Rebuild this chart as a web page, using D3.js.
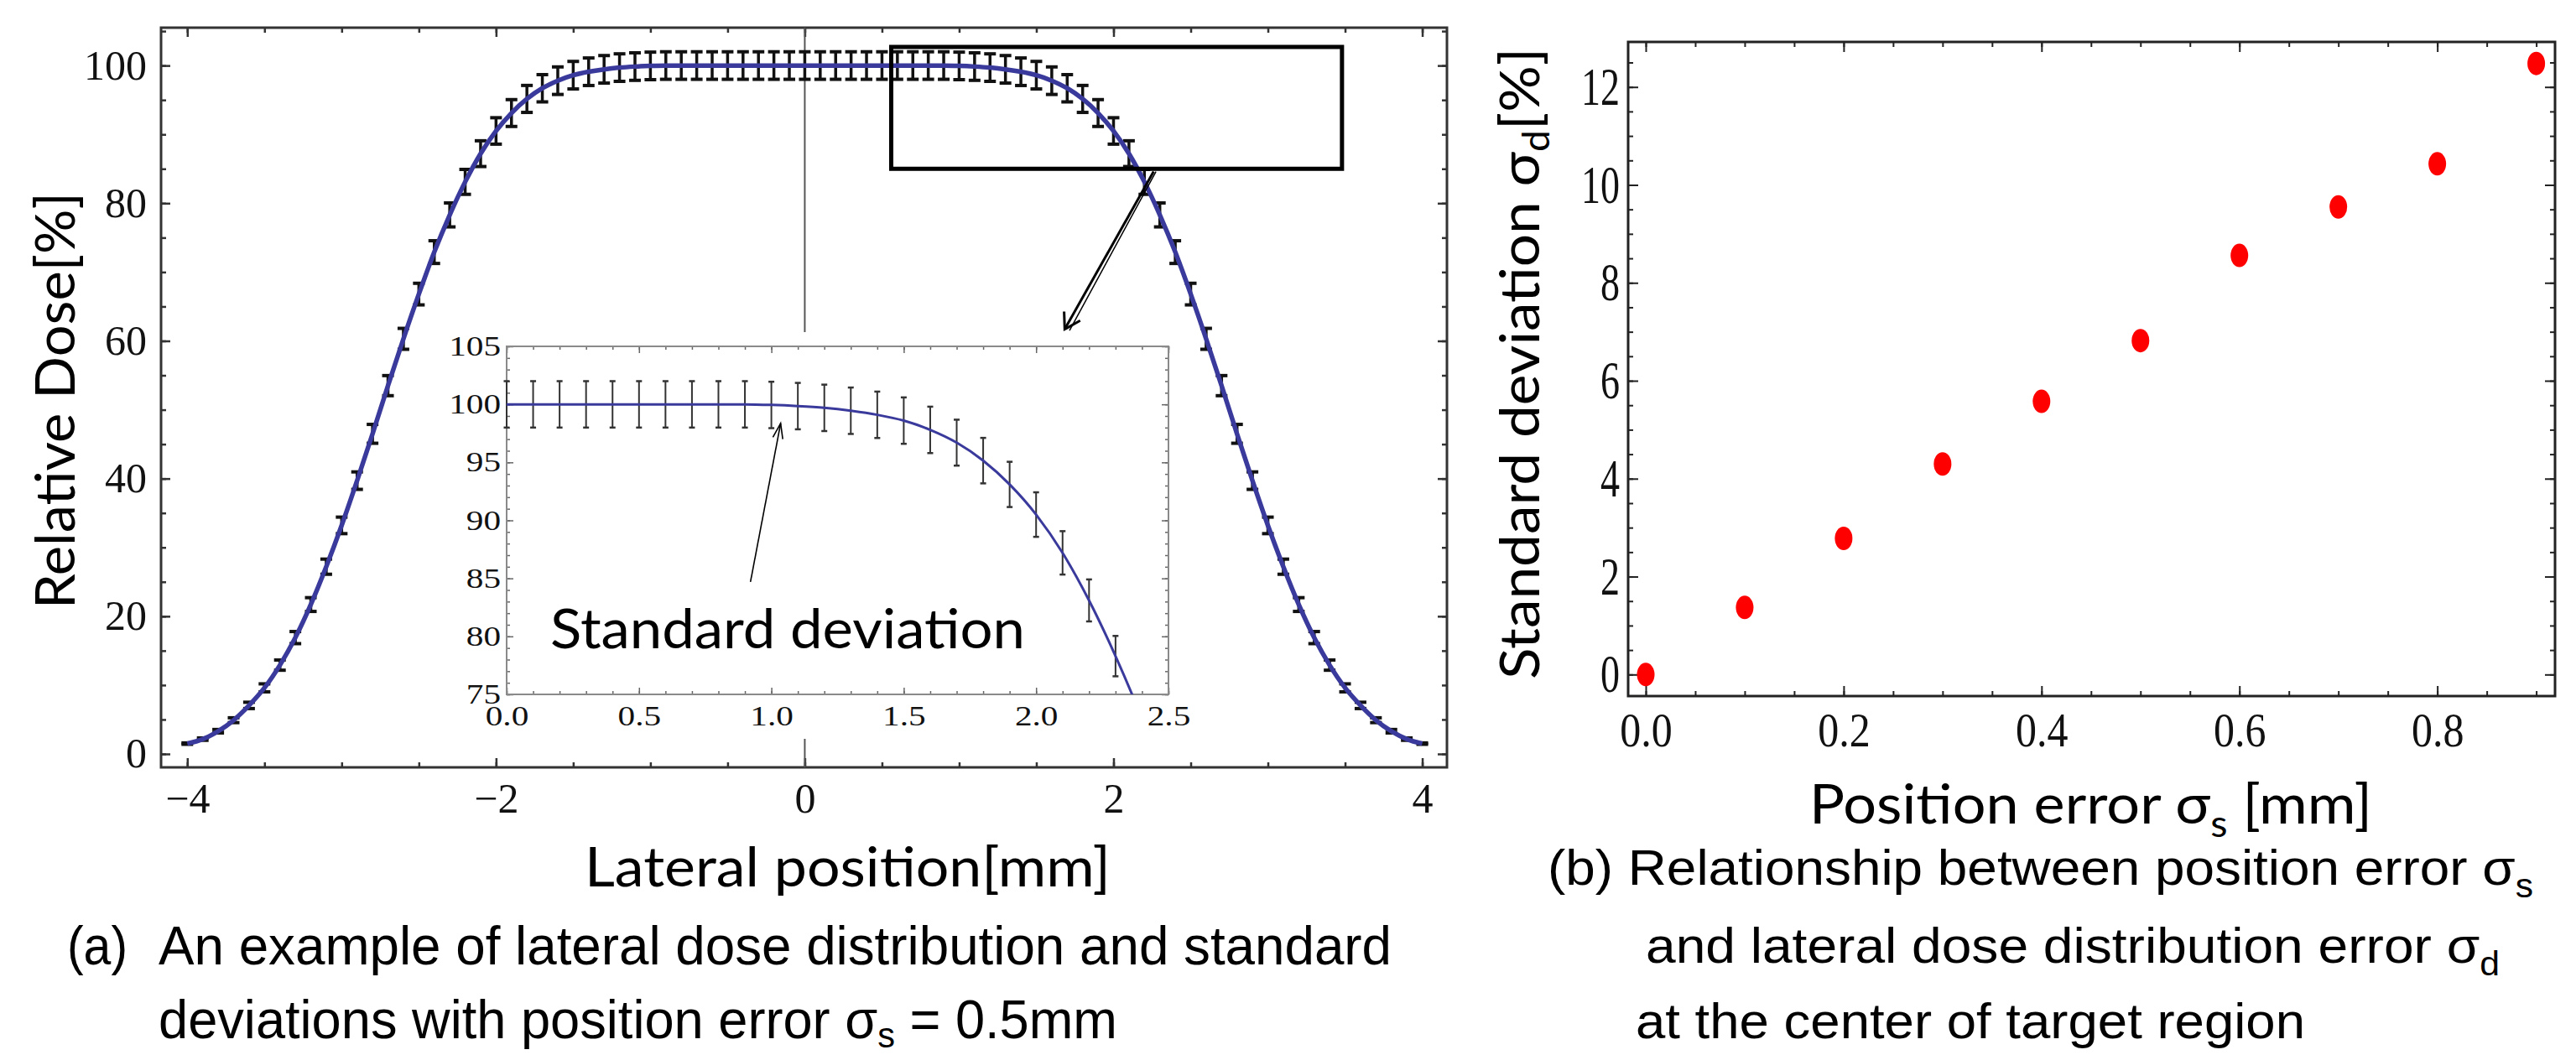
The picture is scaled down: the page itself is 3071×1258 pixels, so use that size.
<!DOCTYPE html>
<html>
<head>
<meta charset="utf-8">
<script src="https://cdn.jsdelivr.net/npm/d3@7"></script>
<style>
  body { margin: 0; background: #fff; }
  svg { display: block; background: #fff; }
  .mainAx text { font-family: "Liberation Serif", serif; font-size: 50px; fill: #111; }
  .inAx text { font-family: "Liberation Serif", serif; font-size: 33px; fill: #111;
    transform-box: fill-box; transform-origin: center; transform: scaleX(1.25); }
  .inAx.ylab text { transform-origin: 100% 50%; }
  .rAx text { font-family: "Liberation Serif", serif; fill: #111; transform-box: fill-box; transform-origin: center; }
  .rAx.ylab text { font-size: 46px; transform: scaleY(1.38); }
  .rAx.xlab text { font-size: 50px; transform: scaleY(1.15); }
  .title { font-family: Lato, "Open Sans", sans-serif; font-size: 66px; fill: #000; }
  .caption { font-family: "Liberation Sans Narrow", "Liberation Sans", Arial, sans-serif; fill: #000; }
</style>
</head>
<body>
<svg id="fig" width="3071" height="1258"></svg>
<script>
//======= data =======//
let lateralPos = [-4.0, -3.9, -3.8, -3.7, -3.6, -3.5, -3.4, -3.3, -3.2, -3.1, -3.0, -2.9, -2.8, -2.7, -2.6, -2.5, -2.4,
  -2.3, -2.2, -2.1, -2.0, -1.9, -1.8, -1.7, -1.6, -1.5, -1.4, -1.3, -1.2, -1.1, -1.0, -0.9, -0.8, -0.7, -0.6, -0.5,
  -0.4, -0.3, -0.2, -0.1, 0.0, 0.1, 0.2, 0.3, 0.4, 0.5, 0.6, 0.7, 0.8, 0.9, 1.0, 1.1, 1.2, 1.3, 1.4, 1.5, 1.6, 1.7,
  1.8, 1.9, 2.0, 2.1, 2.2, 2.3, 2.4, 2.5, 2.6, 2.7, 2.8, 2.9, 3.0, 3.1, 3.2, 3.3, 3.4, 3.5, 3.6, 3.7, 3.8, 3.9, 4.0];

let doseValues = [1.5, 2.15, 3.3, 4.9, 7.05, 9.6, 12.9, 16.9, 21.7, 27.2, 33.2, 39.7, 46.5, 53.5, 60.3, 66.8, 72.9,
  78.3, 83.1, 87.2, 90.5, 93.1, 95.15, 96.7, 97.8, 98.6, 99.1, 99.45, 99.7, 99.85, 99.95, 100, 100, 100, 100, 100,
  100, 100, 100, 100, 100, 100, 100, 100, 100, 100, 100, 100, 100, 100, 99.95, 99.85, 99.7, 99.45, 99.1, 98.6, 97.8,
  96.7, 95.15, 93.1, 90.5, 87.2, 83.1, 78.3, 72.9, 66.8, 60.3, 53.5, 46.5, 39.7, 33.2, 27.2, 21.7, 16.9, 12.9, 9.6,
  7.05, 4.9, 3.3, 2.15, 1.5];

let doseErrors = [0.1, 0.17, 0.25, 0.35, 0.46, 0.58, 0.74, 0.88, 1.0, 1.1, 1.2, 1.27, 1.37, 1.46, 1.52, 1.57, 1.65,
  1.74, 1.81, 1.87, 1.92, 1.95, 1.96, 1.98, 2.0, 2.0, 2.0, 2.0, 2.0, 2.0, 2.0, 2.0, 2.0, 2.0, 2.0, 2.0, 2.0, 2.0, 2.0,
  2.0, 2.0, 2.0, 2.0, 2.0, 2.0, 2.0, 2.0, 2.0, 2.0, 2.0, 2.0, 2.0, 2.0, 2.0, 2.0, 2.0, 2.0, 1.98, 1.96, 1.95, 1.92,
  1.87, 1.81, 1.74, 1.65, 1.57, 1.52, 1.46, 1.37, 1.27, 1.2, 1.1, 1.0, 0.88, 0.74, 0.58, 0.46, 0.35, 0.25, 0.17, 0.1];

let posError = [0.0, 0.1, 0.2, 0.3, 0.4, 0.5, 0.6, 0.7, 0.8, 0.9];
let sigmaD = [0.0, 1.37, 2.78, 4.30, 5.58, 6.82, 8.56, 9.55, 10.43, 12.48];

let mainXTicks = [-4, -2, 0, 2, 4];
let mainYTicks = [0, 20, 40, 60, 80, 100];
let insetXTicks = [0, 0.5, 1, 1.5, 2, 2.5];
let insetYTicks = [75, 80, 85, 90, 95, 100, 105];
let rightXTicks = [0, 0.2, 0.4, 0.6, 0.8];
let rightYTicks = [0, 2, 4, 6, 8, 10, 12];

// zoom box (data coords of main chart)
let zoomBox = { x0: 0.56, x1: 3.48, y0: 85.0, y1: 102.7 };

//======= helpers =======//
let svg = d3.select('#fig');
let defs = svg.append('defs');

defs.append('marker').attr('id', 'arrBig')
  .attr('viewBox', '-24 -14 28 28').attr('refX', 0).attr('refY', 0)
  .attr('markerWidth', 28).attr('markerHeight', 28)
  .attr('markerUnits', 'userSpaceOnUse').attr('orient', 'auto')
  .append('path').attr('d', 'M-18,-11L0,0L-18,11')
  .attr('fill', 'none').attr('stroke', '#000').attr('stroke-width', 3);

defs.append('marker').attr('id', 'arrSmall')
  .attr('viewBox', '-22 -10 26 20').attr('refX', 0).attr('refY', 0)
  .attr('markerWidth', 26).attr('markerHeight', 20)
  .attr('markerUnits', 'userSpaceOnUse').attr('orient', 'auto')
  .append('path').attr('d', 'M-18,-6L0,0L-18,6')
  .attr('fill', 'none').attr('stroke', '#000').attr('stroke-width', 1.6);

function frameAxes(g, x, y, o) {
  let [x0, x1] = x.range();
  let [y0, y1] = y.range();
  let add = function (axis, tr, cls) {
    return g.append('g').attr('class', cls || '').attr('transform', tr).call(axis.tickSizeOuter(0));
  };
  add(d3.axisBottom(x).tickValues(o.xMinor).tickSizeInner(-o.minor).tickFormat(''), 'translate(0,' + y0 + ')');
  add(d3.axisTop(x).tickValues(o.xMinor).tickSizeInner(-o.minor).tickFormat(''), 'translate(0,' + y1 + ')');
  add(d3.axisLeft(y).tickValues(o.yMinor).tickSizeInner(-o.minor).tickFormat(''), 'translate(' + x0 + ',0)');
  add(d3.axisRight(y).tickValues(o.yMinor).tickSizeInner(-o.minor).tickFormat(''), 'translate(' + x1 + ',0)');
  add(d3.axisBottom(x).tickValues(o.xMajor).tickSizeInner(-o.major).tickPadding(o.xPad).tickFormat(o.xFmt),
    'translate(0,' + y0 + ')', o.cls + ' xlab');
  add(d3.axisTop(x).tickValues(o.xMajor).tickSizeInner(-o.major).tickFormat(''), 'translate(0,' + y1 + ')');
  add(d3.axisLeft(y).tickValues(o.yMajor).tickSizeInner(-o.major).tickPadding(o.yPad).tickFormat(o.yFmt),
    'translate(' + x0 + ',0)', o.cls + ' ylab');
  add(d3.axisRight(y).tickValues(o.yMajor).tickSizeInner(-o.major).tickFormat(''), 'translate(' + x1 + ',0)');
  g.selectAll('.domain').remove();
  g.selectAll('.tick line').attr('stroke', o.color).attr('stroke-width', o.tickW);
  g.append('rect').attr('x', x0).attr('y', y1).attr('width', x1 - x0).attr('height', y0 - y1)
    .attr('fill', 'none').attr('stroke', o.frameColor || o.color).attr('stroke-width', o.frameW);
}

function errorBars(g, pts, x, y, o) {
  let bars = g.selectAll('g').data(pts).enter().append('g');
  bars.append('line')
    .attr('x1', d => x(d.x)).attr('x2', d => x(d.x))
    .attr('y1', d => y(d.y - d.e)).attr('y2', d => y(d.y + d.e))
    .attr('stroke', o.color).attr('stroke-width', o.w);
  [-1, 1].forEach(function (s) {
    bars.append('line')
      .attr('x1', d => x(d.x) - o.cap).attr('x2', d => x(d.x) + o.cap)
      .attr('y1', d => y(d.y + s * d.e)).attr('y2', d => y(d.y + s * d.e))
      .attr('stroke', o.color).attr('stroke-width', o.capW);
  });
}

let mainPts = lateralPos.map((p, i) => ({ x: p, y: doseValues[i], e: doseErrors[i] }));

//======= start lateral dose chart =======//
let mainX = d3.scaleLinear().domain([-4.17, 4.16]).range([192, 1725]);
let mainY = d3.scaleLinear().domain([-1.95, 105.5]).range([915, 33]);
let mainG = svg.append('g');

frameAxes(mainG, mainX, mainY, {
  xMajor: mainXTicks, yMajor: mainYTicks,
  xMinor: d3.range(-4, 4.01, 0.5), yMinor: d3.range(0, 105.1, 5),
  major: 11, minor: 6, xPad: 18, yPad: 17,
  xFmt: d3.format('d'), yFmt: d3.format('d'),
  cls: 'mainAx', color: '#333', tickW: 2.5, frameW: 3
});

// vertical axis at x = 0
mainG.append('line')
  .attr('x1', mainX(0)).attr('x2', mainX(0))
  .attr('y1', mainY.range()[1]).attr('y2', mainY.range()[0])
  .attr('stroke', '#555').attr('stroke-width', 2);

errorBars(mainG.append('g'), mainPts, mainX, mainY, { color: '#111', w: 3.5, cap: 7, capW: 4 });

mainG.append('path')
  .datum(mainPts)
  .attr('fill', 'none')
  .attr('stroke', '#3a3a9c')
  .attr('stroke-width', 5.5)
  .attr('d', d3.line().curve(d3.curveMonotoneX).x(d => mainX(d.x)).y(d => mainY(d.y)));

mainG.append('rect')
  .attr('x', mainX(zoomBox.x0)).attr('y', mainY(zoomBox.y1))
  .attr('width', mainX(zoomBox.x1) - mainX(zoomBox.x0))
  .attr('height', mainY(zoomBox.y0) - mainY(zoomBox.y1))
  .attr('fill', 'none').attr('stroke', '#000').attr('stroke-width', 5);

// arrow from zoom box down to the inset
mainG.append('line')
  .attr('x1', mainX(2.275)).attr('y1', mainY(84.6))
  .attr('x2', mainX(1.715)).attr('y2', mainY(61.5))
  .attr('stroke', '#000').attr('stroke-width', 1.5);
mainG.append('line')
  .attr('x1', mainX(2.26)).attr('y1', mainY(84.6))
  .attr('x2', mainX(1.684)).attr('y2', mainY(61.7))
  .attr('stroke', '#000').attr('stroke-width', 3)
  .attr('marker-end', 'url(#arrBig)');
//======= end lateral dose chart =======//

//======= start inset =======//
let inX = d3.scaleLinear().domain([0, 2.5]).range([604, 1393]);
let inY = d3.scaleLinear().domain([75, 105]).range([828, 413]);
let inG = svg.append('g');

inG.append('rect').attr('x', 530).attr('y', 396).attr('width', 885).attr('height', 485).attr('fill', '#fff');

defs.append('clipPath').attr('id', 'inClip').append('rect')
  .attr('x', inX.range()[0]).attr('y', inY.range()[1])
  .attr('width', inX.range()[1] - inX.range()[0]).attr('height', inY.range()[0] - inY.range()[1]);

frameAxes(inG, inX, inY, {
  xMajor: insetXTicks, yMajor: insetYTicks,
  xMinor: d3.range(0, 2.501, 0.1), yMinor: d3.range(75, 105.1, 1),
  major: 8, minor: 4, xPad: 14, yPad: 7,
  xFmt: d3.format('.1f'), yFmt: d3.format('d'),
  cls: 'inAx', color: '#666', tickW: 1.5, frameW: 2, frameColor: '#8a8a8a'
});

errorBars(inG.append('g'), mainPts.filter(d => d.x >= 0 && d.x <= 2.3), inX, inY,
  { color: '#333', w: 2, cap: 3.5, capW: 2.5 });

inG.append('path')
  .datum(mainPts.filter(d => d.x >= 0 && d.x <= 2.5))
  .attr('clip-path', 'url(#inClip)')
  .attr('fill', 'none')
  .attr('stroke', '#3a3a9c')
  .attr('stroke-width', 3)
  .attr('d', d3.line().curve(d3.curveMonotoneX).x(d => inX(d.x)).y(d => inY(d.y)));

inG.append('line')
  .attr('x1', inX(0.921)).attr('y1', inY(84.69))
  .attr('x2', inX(1.035)).attr('y2', inY(98.36))
  .attr('stroke', '#000').attr('stroke-width', 1.6)
  .attr('marker-end', 'url(#arrSmall)');

inG.append('text').attr('class', 'title')
  .attr('x', inX(0.165)).attr('y', inY(78.98))
  .attr('textLength', 566).attr('lengthAdjust', 'spacingAndGlyphs')
  .text('Standard deviation');
//======= end inset =======//

//======= start position error chart =======//
let rX = d3.scaleLinear().domain([-0.0178, 0.919]).range([1941, 3046]);
let rY = d3.scaleLinear().domain([-0.44, 12.92]).range([830, 50]);
let rG = svg.append('g');

frameAxes(rG, rX, rY, {
  xMajor: rightXTicks, yMajor: rightYTicks,
  xMinor: d3.range(0, 0.901, 0.05), yMinor: d3.range(0, 12.51, 0.5),
  major: 12, minor: 6, xPad: 22, yPad: 10,
  xFmt: d3.format('.1f'), yFmt: d3.format('d'),
  cls: 'rAx', color: '#222', tickW: 2, frameW: 3
});

rG.append('g').selectAll('ellipse')
  .data(posError.map((p, i) => ({ x: p, y: sigmaD[i] })))
  .enter()
  .append('ellipse')
  .attr('cx', d => rX(d.x)).attr('cy', d => rY(d.y))
  .attr('rx', 10.5).attr('ry', 14)
  .attr('fill', '#ff0000');
//======= end position error chart =======//

//======= titles and captions =======//
svg.append('text').attr('class', 'title')
  .attr('transform', 'translate(89,726) rotate(-90)')
  .attr('textLength', 497).attr('lengthAdjust', 'spacingAndGlyphs')
  .text('Relative Dose[%]');

svg.append('text').attr('class', 'title')
  .attr('x', 697).attr('y', 1057)
  .attr('textLength', 627).attr('lengthAdjust', 'spacingAndGlyphs')
  .text('Lateral position[mm]');

let rYT = svg.append('text').attr('class', 'title')
  .attr('transform', 'translate(1835,810) rotate(-90)')
  .attr('textLength', 753).attr('lengthAdjust', 'spacingAndGlyphs');
rYT.append('tspan').text('Standard deviation σ');
rYT.append('tspan').attr('dy', 12).attr('font-size', 44).text('d');
rYT.append('tspan').attr('dy', -12).text('[%]');

let rXT = svg.append('text').attr('class', 'title')
  .attr('x', 2157).attr('y', 982)
  .attr('textLength', 671).attr('lengthAdjust', 'spacingAndGlyphs');
rXT.append('tspan').text('Position error σ');
rXT.append('tspan').attr('dy', 16).attr('font-size', 44).text('s');
rXT.append('tspan').attr('dy', -16).text(' [mm]');

function caption(x, y, len, size, parts) {
  let t = svg.append('text').attr('class', 'caption')
    .attr('x', x).attr('y', y).attr('font-size', size)
    .attr('textLength', len).attr('lengthAdjust', 'spacingAndGlyphs');
  parts.forEach(function (p) {
    let s = t.append('tspan').text(p[0]);
    if (p[1]) s.attr('dy', p[1]);
    if (p[2]) s.attr('font-size', p[2]);
  });
}

caption(80, 1150, 72, 64, [['(a)']]);
caption(189, 1150, 1470, 64, [['An example of lateral dose distribution and standard']]);
caption(189, 1238, 1143, 64, [['deviations with position error σ'], ['s', 11, 42], [' = 0.5mm', -11]]);

caption(1845, 1055, 1175, 60, [['(b) Relationship between position error σ'], ['s', 15, 40]]);
caption(1962, 1148, 1018, 60, [['and lateral dose distribution error σ'], ['d', 15, 40]]);
caption(1950, 1238, 798, 60, [['at the center of target region']]);
</script>
</body>
</html>
